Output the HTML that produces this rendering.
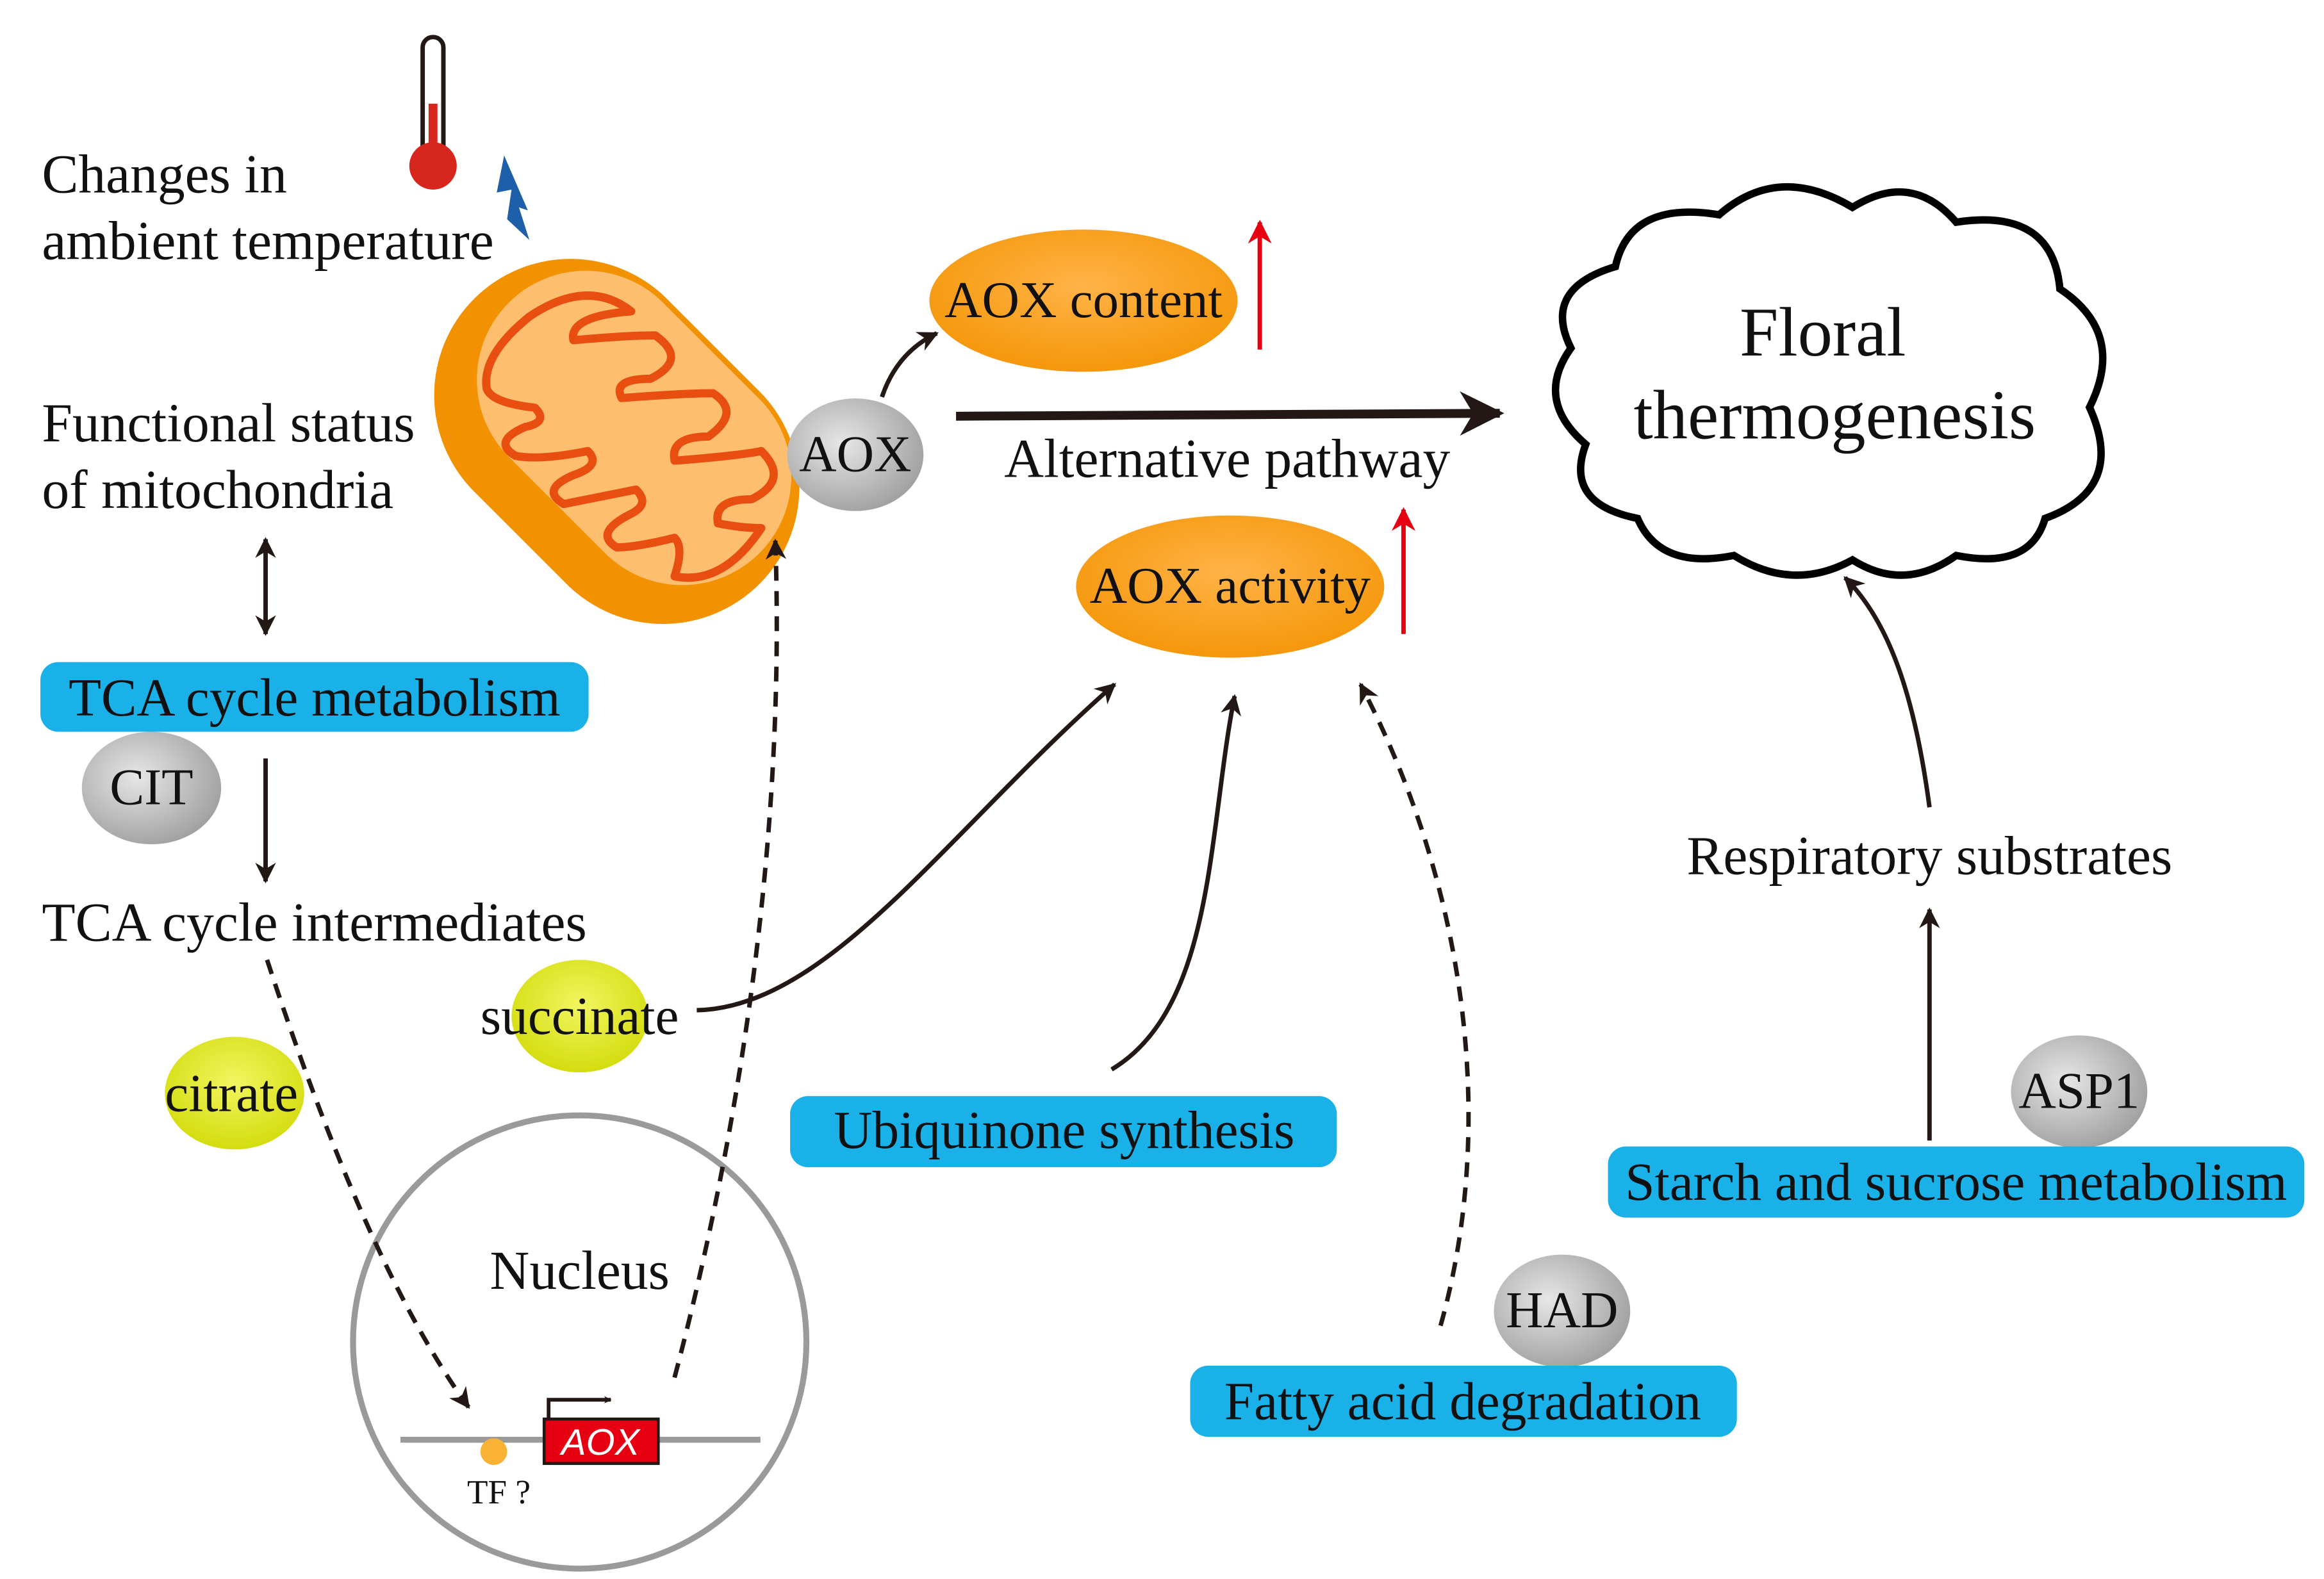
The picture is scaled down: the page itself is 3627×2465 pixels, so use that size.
<!DOCTYPE html>
<html><head><meta charset="utf-8"><style>
html,body{margin:0;padding:0;background:#fff}
svg{display:block}
text{font-family:"Liberation Serif",serif;fill:#111}
</style></head><body>
<svg width="3627" height="2465" viewBox="0 0 1568 1066" xmlns="http://www.w3.org/2000/svg">
<defs>
<marker id="ah" viewBox="0 0 10 10" refX="9" refY="5" markerWidth="5" markerHeight="5" orient="auto-start-reverse" markerUnits="userSpaceOnUse"><path d="M0,0 L10,5 L0,10 L3,5 z" fill="#231815"/></marker>
<marker id="a" viewBox="0 0 10 10" refX="9" refY="5" markerWidth="14" markerHeight="14" orient="auto-start-reverse" markerUnits="userSpaceOnUse"><path d="M0,0 L10,5 L0,10 L3,5 z" fill="#231815"/></marker>
<marker id="ab" viewBox="0 0 10 10" refX="9" refY="5" markerWidth="34" markerHeight="30" orient="auto" markerUnits="userSpaceOnUse"><path d="M0,0 L10,5 L0,10 L3,5 z" fill="#231815"/></marker>
<marker id="ar" viewBox="0 0 10 10" refX="9" refY="5" markerWidth="16" markerHeight="16" orient="auto" markerUnits="userSpaceOnUse"><path d="M0,0 L10,5 L0,10 L3,5 z" fill="#e60012"/></marker>
<radialGradient id="g" cx="0.4" cy="0.4" r="0.7"><stop offset="0" stop-color="#e6e6e6"/><stop offset="1" stop-color="#9a9a9a"/></radialGradient>
<radialGradient id="o" cx="0.5" cy="0.4" r="0.7"><stop offset="0" stop-color="#ffb347"/><stop offset="1" stop-color="#f39200"/></radialGradient>
<radialGradient id="y" cx="0.5" cy="0.4" r="0.7"><stop offset="0" stop-color="#f2f560"/><stop offset="1" stop-color="#cfd800"/></radialGradient>
</defs>

<rect x="285" y="25" width="14" height="85" rx="7" fill="#fff" stroke="#231815" stroke-width="3"/>
<rect x="289" y="70" width="6" height="40" fill="#d7261e"/>
<circle cx="292" cy="112" r="16" fill="#d7261e"/>
<path d="M340,105 L335,130 L345,128 L342,148 L357,162 L350,140 L356,142 Z" fill="#1d5fa8"/>

<g font-size="37">
<text x="28" y="130">Changes in</text>
<text x="28" y="175">ambient temperature</text>
<text x="28" y="298">Functional status</text>
<text x="28" y="343">of mitochondria</text>
</g>

<g transform="translate(416,298) rotate(45) scale(0.92)">
<rect x="-148" y="-100" width="296" height="200" rx="100" fill="#f39200"/>
<rect x="-128" y="-96" width="260" height="160" rx="80" fill="#fdbf6f"/>
<path d="M-110,-20 Q-100,-70 -60,-75 Q-90,-40 -75,-30 Q-50,-60 -35,-75 Q-5,-80 -15,-50 Q-35,-30 -20,-25 Q10,-60 25,-75 Q50,-80 45,-50 Q25,-30 40,-20 Q70,-55 80,-70 Q110,-70 100,-40 Q80,-20 95,-10 Q110,-20 120,-30 Q130,20 100,40 Q90,20 80,20 Q65,45 55,55 Q35,60 45,30 Q50,15 35,15 Q15,45 5,60 Q-15,65 -5,40 Q5,20 -10,20 Q-30,50 -45,60 Q-65,65 -55,40 Q-45,25 -60,25 Q-85,45 -95,40 Q-115,25 -110,-20 Z" fill="none" stroke="#e84e0f" stroke-width="6" stroke-linejoin="round"/>
</g>

<ellipse cx="577" cy="307" rx="46" ry="38" fill="url(#g)"/>
<text x="577" y="318" font-size="35" text-anchor="middle">AOX</text>
<path d="M595,268 Q605,238 632,225" fill="none" stroke="#231815" stroke-width="3" marker-end="url(#a)"/>

<ellipse cx="731" cy="203" rx="104" ry="48" fill="url(#o)"/>
<text x="731" y="214" font-size="35" text-anchor="middle">AOX content</text>
<line x1="850" y1="236" x2="850" y2="150" stroke="#e60012" stroke-width="3" marker-end="url(#ar)"/>

<line x1="645" y1="281" x2="1012" y2="279" stroke="#231815" stroke-width="6" marker-end="url(#ab)"/>
<text x="828" y="322" font-size="37" text-anchor="middle">Alternative pathway</text>

<ellipse cx="830" cy="396" rx="104" ry="48" fill="url(#o)"/>
<text x="830" y="407" font-size="35" text-anchor="middle">AOX activity</text>
<line x1="947" y1="428" x2="947" y2="344" stroke="#e60012" stroke-width="3" marker-end="url(#ar)"/>

<path d="M1090,180 Q1100,135 1160,145 Q1200,110 1250,140 Q1290,115 1320,150 Q1385,140 1390,195 Q1435,225 1410,275 Q1435,330 1380,350 Q1370,385 1320,375 Q1285,400 1250,378 Q1210,400 1170,375 Q1120,385 1105,350 Q1055,340 1070,300 Q1035,270 1060,235 Q1040,195 1090,180 Z" fill="#fff" stroke="#000" stroke-width="5"/>
<text x="1230" y="240" font-size="47" text-anchor="middle">Floral</text>
<text x="1238" y="296" font-size="47" text-anchor="middle">thermogenesis</text>

<line x1="179" y1="364" x2="179" y2="428" stroke="#231815" stroke-width="3" marker-start="url(#a)" marker-end="url(#a)"/>
<rect x="27" y="447" width="370" height="47" rx="12" fill="#1ab0e8"/>
<text x="212" y="483" font-size="36" text-anchor="middle">TCA cycle metabolism</text>
<ellipse cx="102" cy="532" rx="47" ry="38" fill="url(#g)"/>
<text x="102" y="543" font-size="35" text-anchor="middle">CIT</text>
<line x1="179" y1="512" x2="179" y2="595" stroke="#231815" stroke-width="3" marker-end="url(#a)"/>
<text x="28" y="635" font-size="37">TCA cycle intermediates</text>

<ellipse cx="391" cy="686" rx="46" ry="38" fill="url(#y)"/>
<text x="324" y="698" font-size="36">succinate</text>
<ellipse cx="158" cy="738" rx="47" ry="38" fill="url(#y)"/>
<text x="111" y="750" font-size="36">citrate</text>

<path d="M470,682 C560,680 640,560 752,462" fill="none" stroke="#231815" stroke-width="3" marker-end="url(#a)"/>
<rect x="533" y="740" width="369" height="48" rx="12" fill="#1ab0e8"/>
<text x="718" y="775" font-size="36" text-anchor="middle">Ubiquinone synthesis</text>
<path d="M750,722 C820,680 815,560 833,470" fill="none" stroke="#231815" stroke-width="3" marker-end="url(#a)"/>
<path d="M972,895 C1010,760 990,600 918,462" fill="none" stroke="#231815" stroke-width="3" stroke-dasharray="10,7" marker-end="url(#a)"/>

<ellipse cx="1054" cy="885" rx="46" ry="38" fill="url(#g)"/>
<text x="1054" y="896" font-size="35" text-anchor="middle">HAD</text>
<rect x="803" y="922" width="369" height="48" rx="12" fill="#1ab0e8"/>
<text x="987" y="958" font-size="36" text-anchor="middle">Fatty acid degradation</text>

<line x1="1302" y1="770" x2="1302" y2="614" stroke="#231815" stroke-width="3" marker-end="url(#a)"/>
<ellipse cx="1403" cy="737" rx="46" ry="38" fill="url(#g)"/>
<text x="1403" y="748" font-size="35" text-anchor="middle">ASP1</text>
<rect x="1085" y="774" width="470" height="48" rx="12" fill="#1ab0e8"/>
<text x="1320" y="810" font-size="36" text-anchor="middle">Starch and sucrose metabolism</text>
<text x="1302" y="590" font-size="37" text-anchor="middle">Respiratory substrates</text>
<path d="M1302,545 C1292,470 1275,420 1245,390" fill="none" stroke="#231815" stroke-width="3" marker-end="url(#a)"/>

<circle cx="391" cy="906" r="153" fill="none" stroke="#9a9a9a" stroke-width="4"/>
<text x="391" y="870" font-size="37" text-anchor="middle">Nucleus</text>
<line x1="270" y1="972" x2="513" y2="972" stroke="#9a9a9a" stroke-width="4"/>
<circle cx="333" cy="980" r="9" fill="#f9b233"/>
<text x="315" y="1015" font-size="23">TF ?</text>
<rect x="367" y="958" width="77" height="30" fill="#e60012" stroke="#231815" stroke-width="2"/>
<text x="405" y="982" font-size="25" text-anchor="middle" font-style="italic" style="font-family:'Liberation Sans',sans-serif;fill:#fff">AOX</text>
<path d="M370,958 L370,945 L412,945" fill="none" stroke="#231815" stroke-width="2.5" marker-end="url(#ah)"/>
<path d="M180,648 C220,770 265,880 316,950" fill="none" stroke="#231815" stroke-width="3" stroke-dasharray="10,7" marker-end="url(#a)"/>
<path d="M455,930 C500,760 530,560 523,365" fill="none" stroke="#231815" stroke-width="3" stroke-dasharray="10,7" marker-end="url(#a)"/>
</svg>
</body></html>
